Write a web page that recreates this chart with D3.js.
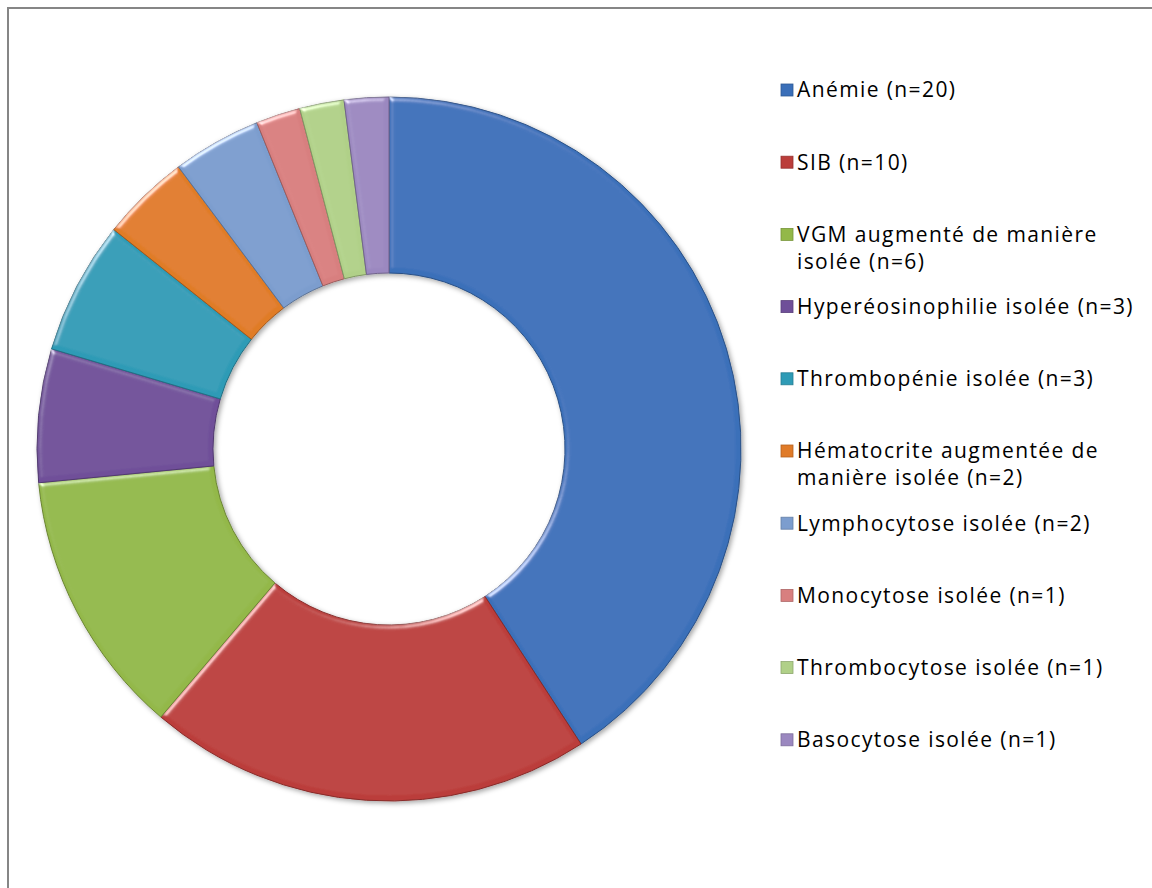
<!DOCTYPE html>
<html>
<head>
<meta charset="utf-8">
<script src="https://cdn.jsdelivr.net/npm/d3@7"></script>
<style>
  body { margin: 0; background: #fff; }
  #chart { width: 1152px; height: 888px; }
  text { font-family: "Open Sans", sans-serif; fill: #000; }
</style>
</head>
<body>
<div id="chart"></div>
<script>
var labels = [
    ["Anémie (n=20)"],
    ["SIB (n=10)"],
    ["VGM augmenté de manière", "isolée (n=6)"],
    ["Hyperéosinophilie isolée (n=3)"],
    ["Thrombopénie isolée (n=3)"],
    ["Hématocrite augmentée de", "manière isolée (n=2)"],
    ["Lymphocytose isolée (n=2)"],
    ["Monocytose isolée (n=1)"],
    ["Thrombocytose isolée (n=1)"],
    ["Basocytose isolée (n=1)"]
];
var counts = [20, 10, 6, 3, 3, 2, 2, 1, 1, 1];
var colors = ["#3a6fb9", "#bb3d3a", "#93b848", "#6f4f99", "#2e9bb6",
              "#e07b28", "#7c9dce", "#d87f7f", "#b0d088", "#9b88c0"];

var width = 1152, height = 888;
var data = counts.map(function(c, i) { return {n: c, lines: labels[i], color: colors[i]}; });

var svg = d3.select("#chart").append("svg")
    .attr("width", width)
    .attr("height", height);

var defs = svg.append("defs");

// soft bevel on the edges only, a bit like the office "relief" look
var bevel = defs.append("filter").attr("id", "bevel")
    .attr("x", "-5%").attr("y", "-5%").attr("width", "110%").attr("height", "110%");
bevel.append("feGaussianBlur").attr("in", "SourceAlpha").attr("stdDeviation", 2.5).attr("result", "blur");
bevel.append("feSpecularLighting").attr("in", "blur")
    .attr("surfaceScale", 3).attr("specularConstant", 0.6).attr("specularExponent", 25)
    .attr("lighting-color", "#ffffff").attr("result", "spec")
    .append("feDistantLight").attr("azimuth", 235).attr("elevation", 30);
bevel.append("feComposite").attr("in", "spec").attr("in2", "SourceAlpha")
    .attr("operator", "in").attr("result", "specIn");
bevel.append("feComposite").attr("in", "SourceGraphic").attr("in2", "specIn")
    .attr("operator", "arithmetic").attr("k1", 0).attr("k2", 1).attr("k3", 1).attr("k4", 0);

var shadow = defs.append("filter").attr("id", "shadow")
    .attr("x", "-10%").attr("y", "-10%").attr("width", "120%").attr("height", "120%");
shadow.append("feDropShadow").attr("dx", 2).attr("dy", 2).attr("stdDeviation", 2.5)
    .attr("flood-color", "#000").attr("flood-opacity", 0.35);

// chart border (runs off the right and bottom)
svg.append("rect")
    .attr("x", 8).attr("y", 8)
    .attr("width", 1160).attr("height", 900)
    .attr("fill", "none")
    .attr("stroke", "#868686")
    .attr("stroke-width", 2);

var cx = 389, cy = 449, rOuter = 352, rInner = 176;

var pie = d3.pie()
    .sort(null)
    .value(function(d) { return d.n; });

var arc = d3.arc()
    .innerRadius(rInner)
    .outerRadius(rOuter);

var donut = svg.append("g")
    .attr("transform", "translate(" + cx + "," + cy + ")")
    .attr("filter", "url(#shadow)");

donut.selectAll("path")
    .data(pie(data))
    .enter().append("path")
    .attr("d", arc)
    .attr("fill", function(d) { return d.data.color; })
    .attr("stroke", function(d) { return d3.color(d.data.color).darker(0.9); })
    .attr("stroke-width", 1)
    .attr("filter", "url(#bevel)");

// legend
var legX = 781, legY0 = 90, legStep = 72.2, lineH = 27;

var leg = svg.append("g").attr("class", "legend");
var item = leg.selectAll("g")
    .data(data)
    .enter().append("g")
    .attr("transform", function(d, i) { return "translate(" + legX + "," + (legY0 + i * legStep) + ")"; });

item.append("rect")
    .attr("x", 0).attr("y", -6)
    .attr("width", 12).attr("height", 12)
    .attr("fill", function(d) { return d.color; })
    .attr("stroke", function(d) { return d3.color(d.color).darker(0.6); })
    .attr("stroke-width", 0.8);

item.append("text")
    .attr("x", 16)
    .attr("y", 0)
    .attr("font-size", 21)
    .attr("letter-spacing", 1.4)
    .selectAll("tspan")
    .data(function(d) { return d.lines; })
    .enter().append("tspan")
    .attr("x", 16)
    .attr("dy", function(d, i) { return i === 0 ? "0.35em" : lineH; })
    .text(function(d) { return d; });
</script>
</body>
</html>
